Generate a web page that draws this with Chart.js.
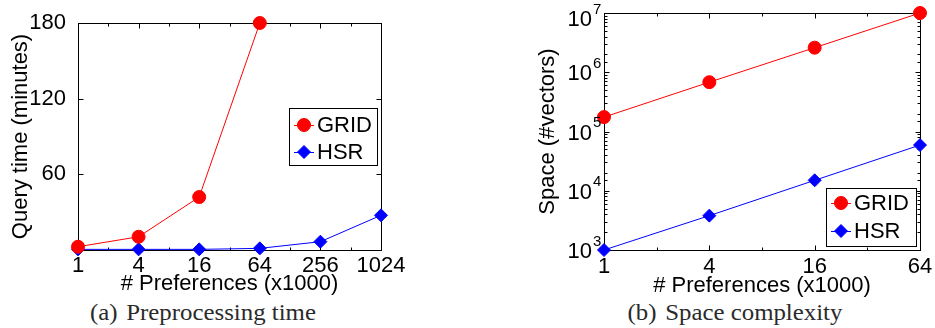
<!DOCTYPE html>
<html>
<head>
<meta charset="utf-8">
<script src="https://cdn.jsdelivr.net/npm/chart.js@4.4.1/dist/chart.umd.min.js"></script>
<style>
  body { margin: 0; background: #fff; width: 935px; height: 328px; position: relative; overflow: hidden; }
  .box { position: absolute; top: 0; }
  .cap { position: absolute; top: 301px; font-family: "Liberation Serif", "Times New Roman", serif;
         font-size: 23px; line-height: 23px; color: #2a2a2a; white-space: nowrap;
         transform: translateX(-50%) scaleX(1.08); }
  .cap span { margin-right: 8px; }
</style>
</head>
<body>
<div class="box" style="left:0"><canvas id="c1" width="420" height="300"></canvas></div>
<div class="box" style="left:480px"><canvas id="c2" width="455" height="300"></canvas></div>
<div class="cap" style="left:203px"><span>(a)</span>Preprocessing time</div>
<div class="cap" style="left:735px"><span>(b)</span>Space complexity</div>

<script>
// (a) preprocessing time, minutes
const prefsA = ['1', '4', '16', '64', '256', '1024'];
const gridTime = [2.6, 10.5, 42, 180, null, null];
const hsrTime = [0.5, 0.5, 0.5, 1.3, 6.6, 27.5];
const timeTicks = [0, 60, 120, 180];

// (b) space, #vectors
const prefsB = ['1', '4', '16', '64'];
const gridSpace = [1.75e5, 6.8e5, 2.6e6, 1.0e7];
const hsrSpace = [1e3, 3.8e3, 1.5e4, 5.9e4];
const spaceTicks = [1e3, 1e4, 1e5, 1e6, 1e7];

const FONT = '"Liberation Sans", Arial, Helvetica, sans-serif';
Chart.defaults.font.family = FONT;
Chart.defaults.font.size = 22;
Chart.defaults.color = '#000';

const isPow10 = v => Math.abs(Math.log10(v) - Math.round(Math.log10(v))) < 1e-6;

// box around the plot with inward ticks (matlab style)
const frame = {
  id: 'frame',
  beforeDatasetsDraw(chart, args, o) {
    const { ctx, chartArea: a, scales: { x, y } } = chart;
    const L = Math.round(a.left) + 0.5, R = Math.round(a.right) + 0.5;
    const T = Math.round(a.top) + 0.5, B = Math.round(a.bottom) + 0.5;
    ctx.save();
    ctx.strokeStyle = '#000';
    ctx.lineWidth = 1;
    ctx.strokeRect(L, T, R - L, B - T);
    ctx.beginPath();
    y.ticks.forEach(t => {
      const py = Math.round(y.getPixelForValue(t.value)) + 0.5;
      const len = (!o.logY || isPow10(t.value)) ? 5 : 3;
      ctx.moveTo(L, py); ctx.lineTo(L + len, py);
      ctx.moveTo(R, py); ctx.lineTo(R - len, py);
    });
    const n = chart.data.labels.length;
    for (let i = 0; i < n; i++) {
      const px = Math.round(x.getPixelForValue(i)) + 0.5;
      ctx.moveTo(px, B); ctx.lineTo(px, B - 5);
      ctx.moveTo(px, T); ctx.lineTo(px, T + 5);
      if (i < n - 1) {
        const mx = Math.round(x.getPixelForValue(i + 0.5)) + 0.5;
        ctx.moveTo(mx, B); ctx.lineTo(mx, B - 3);
        ctx.moveTo(mx, T); ctx.lineTo(mx, T + 3);
      }
    }
    ctx.stroke();
    ctx.restore();
  }
};

// category labels under the x axis
const xLabels = {
  id: 'xLabels',
  afterDraw(chart, args, o) {
    const { ctx, chartArea: a, scales: { x } } = chart;
    ctx.save();
    ctx.fillStyle = '#000';
    ctx.font = '22px ' + FONT;
    ctx.textAlign = 'center';
    ctx.textBaseline = 'middle';
    chart.data.labels.forEach((lab, i) => {
      ctx.fillText(lab, x.getPixelForValue(i), a.bottom + o.dy);
    });
    ctx.restore();
  }
};

// legend box with line + marker samples
const boxLegend = {
  id: 'boxLegend',
  afterDraw(chart, args, o) {
    const { ctx } = chart;
    const [bx, by, bw, bh] = o.box;
    ctx.save();
    ctx.fillStyle = '#fff';
    ctx.fillRect(bx, by, bw, bh);
    ctx.strokeStyle = '#000';
    ctx.lineWidth = 1;
    ctx.strokeRect(bx + 0.5, by + 0.5, bw, bh);
    chart.data.datasets.forEach((ds, i) => {
      const cy = by + o.rows[i];
      ctx.strokeStyle = ds.borderColor;
      ctx.fillStyle = ds.backgroundColor;
      ctx.lineWidth = 1;
      ctx.beginPath();
      ctx.moveTo(bx + 5, cy + 0.5); ctx.lineTo(bx + 25, cy + 0.5);
      ctx.stroke();
      Chart.helpers.drawPoint(ctx, { pointStyle: ds.pointStyle, rotation: 0, radius: ds.pointRadius, borderWidth: 1 }, bx + 15, cy);
      ctx.fillStyle = '#000';
      ctx.font = '22px ' + FONT;
      ctx.textAlign = 'left';
      ctx.textBaseline = 'middle';
      ctx.fillText(ds.label, bx + 28, cy + 1);
    });
    ctx.restore();
  }
};

// 10^k tick labels for the log axis
const powLabels = {
  id: 'powLabels',
  afterDraw(chart) {
    const { ctx, scales: { y } } = chart;
    ctx.save();
    ctx.fillStyle = '#000';
    ctx.textBaseline = 'middle';
    y.ticks.forEach(t => {
      if (!isPow10(t.value)) return;
      const e = Math.round(Math.log10(t.value));
      const py = Math.max(y.getPixelForValue(t.value) + 2, 20);
      ctx.font = '22px ' + FONT;
      ctx.textAlign = 'right';
      ctx.fillText('10', y.right - 12, py);
      ctx.font = '15px ' + FONT;
      ctx.textAlign = 'left';
      ctx.fillText(String(e), y.right - 11, py - 10.5);
    });
    ctx.restore();
  }
};

function series(label, data, color, style) {
  return {
    label, data,
    borderColor: color, backgroundColor: color,
    borderWidth: 1,
    pointStyle: style, pointRadius: 6.5, pointBorderWidth: 1,
    pointBackgroundColor: color, pointBorderColor: color,
    clip: false, spanGaps: false
  };
}

new Chart(document.getElementById('c1'), {
  type: 'line',
  data: {
    labels: prefsA,
    datasets: [
      series('GRID', gridTime, '#ff0000', 'circle'),
      series('HSR', hsrTime, '#0000ff', 'rectRot')
    ]
  },
  options: {
    responsive: false,
    animation: false,
    layout: { padding: { top: 23, right: 39, left: 0, bottom: 0 } },
    plugins: {
      legend: { display: false },
      tooltip: { enabled: false },
      frame: { logY: false },
      xLabels: { dy: 16 },
      boxLegend: { box: [289, 108, 88, 57], rows: [17, 44] }
    },
    scales: {
      x: {
        offset: false,
        grid: { display: false },
        border: { display: false },
        ticks: { display: false },
        title: { display: true, text: '# Preferences (x1000)', padding: { top: 0, bottom: 3 } },
        afterFit: s => { s.height = 50; }
      },
      y: {
        min: timeTicks[0], max: timeTicks[timeTicks.length - 1],
        afterBuildTicks: s => { s.ticks = timeTicks.map(v => ({ value: v })); },
        grid: { display: false },
        border: { display: false },
        ticks: { padding: 4, callback: v => (v === 0 ? '' : v) },
        title: { display: true, text: 'Query time (minutes)', padding: { top: 8, bottom: 0 } },
        afterFit: s => { s.width = 78; }
      }
    }
  },
  plugins: [frame, xLabels, boxLegend]
});

new Chart(document.getElementById('c2'), {
  type: 'line',
  data: {
    labels: prefsB,
    datasets: [
      series('GRID', gridSpace, '#ff0000', 'circle'),
      series('HSR', hsrSpace, '#0000ff', 'rectRot')
    ]
  },
  options: {
    responsive: false,
    animation: false,
    layout: { padding: { top: 13, right: 15, left: 0, bottom: 0 } },
    plugins: {
      legend: { display: false },
      tooltip: { enabled: false },
      frame: { logY: true },
      xLabels: { dy: 17 },
      boxLegend: { box: [346, 188, 90, 58], rows: [15, 43] }
    },
    scales: {
      x: {
        offset: false,
        grid: { display: false },
        border: { display: false },
        ticks: { display: false },
        title: { display: true, text: '# Preferences (x1000)', padding: { top: 0, bottom: 1 } },
        afterFit: s => { s.height = 50; }
      },
      y: {
        type: 'logarithmic',
        min: spaceTicks[0], max: spaceTicks[spaceTicks.length - 1],
        grid: { display: false },
        border: { display: false },
        ticks: { display: false },
        title: { display: true, text: 'Space (#vectors)', padding: { top: 55, bottom: 0 } },
        afterFit: s => { s.width = 124; }
      }
    }
  },
  plugins: [frame, xLabels, boxLegend, powLabels]
});
</script>
</body>
</html>
